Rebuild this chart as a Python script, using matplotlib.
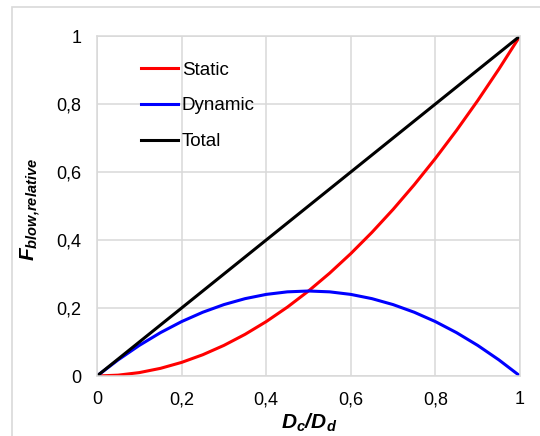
from matplotlib import pyplot as plt
from matplotlib.patches import Rectangle

plt.rcParams['font.family'] = ['Liberation Sans', 'DejaVu Sans']
plt.rcParams['mathtext.fontset'] = 'custom'
plt.rcParams['mathtext.rm'] = 'Liberation Sans'
plt.rcParams['mathtext.it'] = 'Liberation Sans:italic'
plt.rcParams['mathtext.bf'] = 'Liberation Sans:bold'
plt.rcParams['mathtext.bfit'] = 'Liberation Sans:bold:italic'

# ratio D_c/D_d
x = [0.0, 0.05, 0.1, 0.15, 0.2, 0.25, 0.3, 0.35, 0.4, 0.45, 0.5,
     0.55, 0.6, 0.65, 0.7, 0.75, 0.8, 0.85, 0.9, 0.95, 1.0]

# relative blow force
static = [0.0, 0.0025, 0.01, 0.0225, 0.04, 0.0625, 0.09, 0.1225, 0.16, 0.2025, 0.25,
          0.3025, 0.36, 0.4225, 0.49, 0.5625, 0.64, 0.7225, 0.81, 0.9025, 1.0]
dynamic = [0.0, 0.0475, 0.09, 0.1275, 0.16, 0.1875, 0.21, 0.2275, 0.24, 0.2475, 0.25,
           0.2475, 0.24, 0.2275, 0.21, 0.1875, 0.16, 0.1275, 0.09, 0.0475, 0.0]
total = [0.0, 0.05, 0.1, 0.15, 0.2, 0.25, 0.3, 0.35, 0.4, 0.45, 0.5,
         0.55, 0.6, 0.65, 0.7, 0.75, 0.8, 0.85, 0.9, 0.95, 1.0]

ticks = [0, 0.2, 0.4, 0.6, 0.8, 1]
tick_labels = ['0', '0,2', '0,4', '0,6', '0,8', '1']

fig = plt.figure(figsize=(5.4, 4.36), dpi=100)
ax = fig.add_axes([97/540, 1 - 376/436, 423/540, 340/436])

# chart frame, cut off at right and bottom like the original
fig.patches.append(Rectangle((12/540, -0.1), 1.1, 1 - 7/436 + 0.1,
                             transform=fig.transFigure, fill=False,
                             edgecolor='#d9d9d9', linewidth=1.2))

ax.plot(x, static, color='#ff0000', lw=2.2, label='Static')
ax.plot(x, dynamic, color='#0000ff', lw=2.2, label='Dynamic')
ax.plot(x, total, color='#000000', lw=2.2, label='Total')

ax.set_xlim(0, 1)
ax.set_ylim(0, 1)
ax.set_xticks(ticks)
ax.set_xticklabels(tick_labels)
ax.set_yticks(ticks)
ax.set_yticklabels(tick_labels)
ax.tick_params(length=0, labelsize=13, pad=11, colors='#000000')
ax.grid(True, color='#d9d9d9', lw=1.1)
ax.set_axisbelow(True)
for s in ax.spines.values():
    s.set_color('#d9d9d9')
    s.set_linewidth(1.1)

# axis titles (bold italic with subscripts)
fig.text(309/540, 1 - 423/436, r'$\mathbfit{D_c/D_d}$', fontsize=15,
         ha='center', va='center')
fig.text(31/540, 1 - 209/436, r'$\mathbfit{F_{blow{,}relative}}$', fontsize=15,
         rotation=90, ha='center', va='center')

ax.legend(loc='upper left', bbox_to_anchor=(0.063, 0.975), frameon=False,
          fontsize=13.5, handlelength=2.0, handletextpad=0.2, labelspacing=1.0)

plt.savefig('out.png')
